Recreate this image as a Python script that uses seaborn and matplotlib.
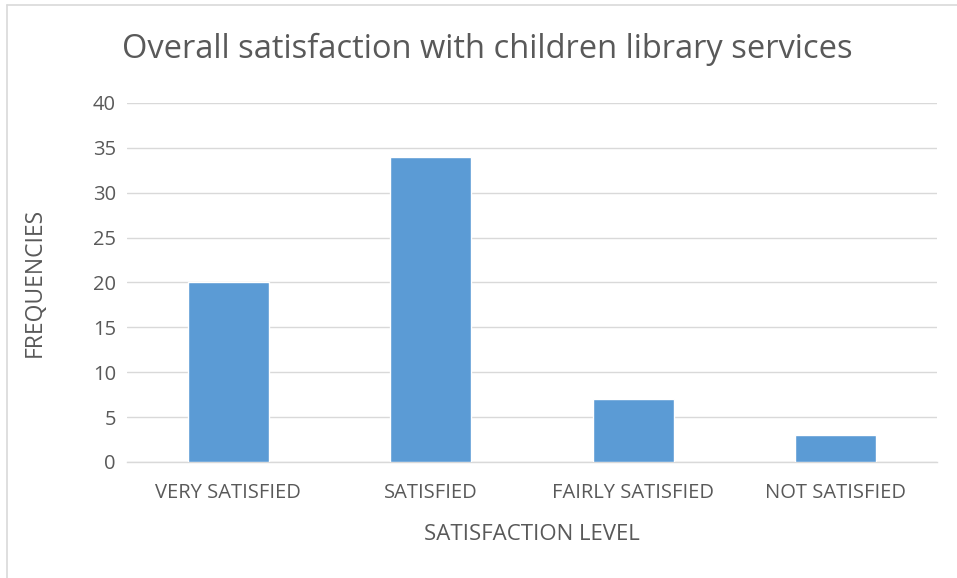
import matplotlib
matplotlib.use("Agg")
import matplotlib.pyplot as plt
import seaborn as sns
import pandas as pd
from matplotlib.lines import Line2D

levels = ["VERY SATISFIED", "SATISFIED", "FAIRLY SATISFIED", "NOT SATISFIED"]
frequencies = [20, 34, 7, 3]
yticks = [0, 5, 10, 15, 20, 25, 30, 35, 40]

df = pd.DataFrame({"level": levels, "freq": frequencies})

sns.set_theme(style="white")
plt.rcParams["font.family"] = ["Open Sans", "DejaVu Sans"]
grey = "#595959"

fig = plt.figure(figsize=(9.57, 5.78), dpi=100)
ax = fig.add_axes([0.1327, 0.2007, 0.8463, 0.6211])

sns.barplot(data=df, x="level", y="freq", color="#5B9BD5", width=0.4,
            saturation=1, ax=ax, zorder=3)

ax.set_ylim(0, 40)
ax.set_yticks(yticks)
ax.set_xlim(-0.5, len(levels) - 0.5)
ax.grid(axis="y", color="#D9D9D9", linewidth=1, zorder=0)
for s in ["top", "right", "left"]:
    ax.spines[s].set_visible(False)
ax.spines["bottom"].set_color("#D9D9D9")
ax.spines["bottom"].set_linewidth(1)
ax.tick_params(axis="both", length=0, labelsize=14.5, labelcolor=grey)
ax.tick_params(axis="x", pad=15)
ax.tick_params(axis="y", pad=8)

ax.set_xlabel("SATISFACTION LEVEL", fontsize=16, color=grey, labelpad=15)
ax.set_ylabel("FREQUENCIES", fontsize=16.5, color=grey, labelpad=33)
fig.text(0.128, 0.914, "Overall satisfaction with children library services",
         fontsize=23.5, color=grey, ha="left", va="center")

# light frame around the chart area
fig.add_artist(Line2D([0.0073, 0.0073], [0, 0.991], color="#D9D9D9", lw=1.2,
                      transform=fig.transFigure))
fig.add_artist(Line2D([0.0073, 1], [0.991, 0.991], color="#D9D9D9", lw=1.2,
                      transform=fig.transFigure))

fig.savefig("out.png", dpi=100)
